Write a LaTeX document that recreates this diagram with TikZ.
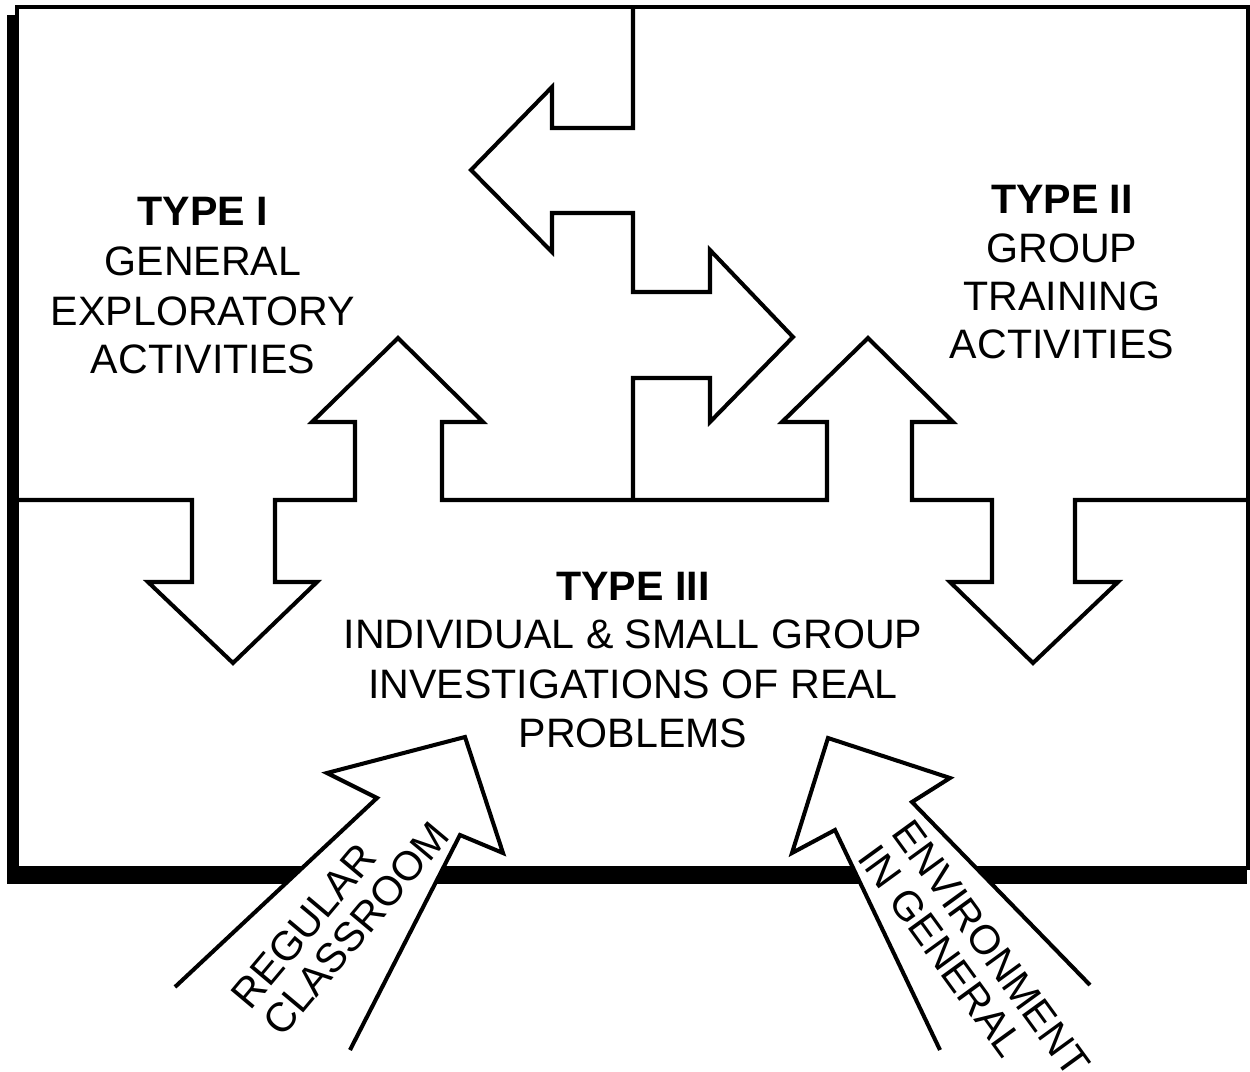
\documentclass[tikz,border=0pt]{standalone}
\usepackage{fontspec}
\setmainfont{Liberation Sans}
\begin{document}
\begin{tikzpicture}[x=0.01cm,y=-0.01cm,
  ln/.style={line width=1.15pt, line join=miter},
  lbl/.style={font=\fontsize{11.7}{14}\selectfont, inner sep=0pt, anchor=base},
  hd/.style={lbl, font=\fontsize{11.7}{14}\selectfont\bfseries},
  rl/.style={font=\fontsize{11.7}{14}\selectfont, inner sep=0pt, anchor=base west}]
\useasboundingbox (0,0) rectangle (1250,1072);
% shadow and frame
\fill[black] (7,15) rectangle (1247,884);
\draw[fill=white, line width=1.2pt] (17,7) rectangle (1248,868);
% horizontal divider with double arrows
\draw[ln] (17,500) -- (192,500) -- (192,582) -- (148,582) -- (233,663) -- (317,582)
  -- (275,582) -- (275,500) -- (355,500) -- (355,422) -- (312,422) -- (398,338)
  -- (483,422) -- (442,422) -- (442,500) -- (827,500) -- (827,422) -- (782,422)
  -- (868,338) -- (953,422) -- (912,422) -- (912,500) -- (992,500) -- (992,582)
  -- (950,582) -- (1033,663) -- (1118,582) -- (1075,582) -- (1075,500) -- (1248,500);
% vertical divider with left/right arrows
\draw[ln] (633,7) -- (633,128) -- (552,128) -- (552,87) -- (471,170) -- (552,252)
  -- (552,213) -- (633,213) -- (633,292) -- (710,292) -- (710,250) -- (793,337)
  -- (710,422) -- (710,378) -- (633,378) -- (633,500);
% bottom arrows
\fill[white] (175,987) -- (377,798) -- (327,773) -- (465,737) -- (503,853) -- (460,835) -- (350,1050) -- cycle;
\draw[ln] (175,987) -- (377,798) -- (327,773) -- (465,737) -- (503,853) -- (460,835) -- (350,1050);
\fill[white] (940,1050) -- (835,830) -- (792,853) -- (828,738) -- (950,778) -- (912,802) -- (1090,985) -- cycle;
\draw[ln] (940,1050) -- (835,830) -- (792,853) -- (828,738) -- (950,778) -- (912,802) -- (1090,985);
% Type I
\node[hd] (t1a) at (203,225) {TYPE I};
\node[lbl] (t1b) at (203,275) {GENERAL};
\node[lbl] (t1c) at (203,325) {EXPLORATORY};
\node[lbl] (t1d) at (203,373) {ACTIVITIES};
% Type II
\node[hd] (t2a) at (1062,213) {TYPE II};
\node[lbl] (t2b) at (1062,262) {GROUP};
\node[lbl] (t2c) at (1062,310) {TRAINING};
\node[lbl] (t2d) at (1062,358) {ACTIVITIES};
% Type III
\node[hd] (t3a) at (633,600) {TYPE III};
\node[lbl] (t3b) at (633,648) {INDIVIDUAL \& SMALL GROUP};
\node[lbl] (t3c) at (633,698) {INVESTIGATIONS OF REAL};
\node[lbl] (t3d) at (633,747) {PROBLEMS};
% arrow labels
\node[rl, rotate=50] (reg) at (250,1012) {REGULAR};
\node[rl, rotate=50] (cls) at (282,1039) {CLASSROOM};
\node[rl, rotate=-54] (env) at (890,833) {ENVIRONMENT};
\node[rl, rotate=-54] (ing) at (856,858) {IN GENERAL};
\end{tikzpicture}
\end{document}
